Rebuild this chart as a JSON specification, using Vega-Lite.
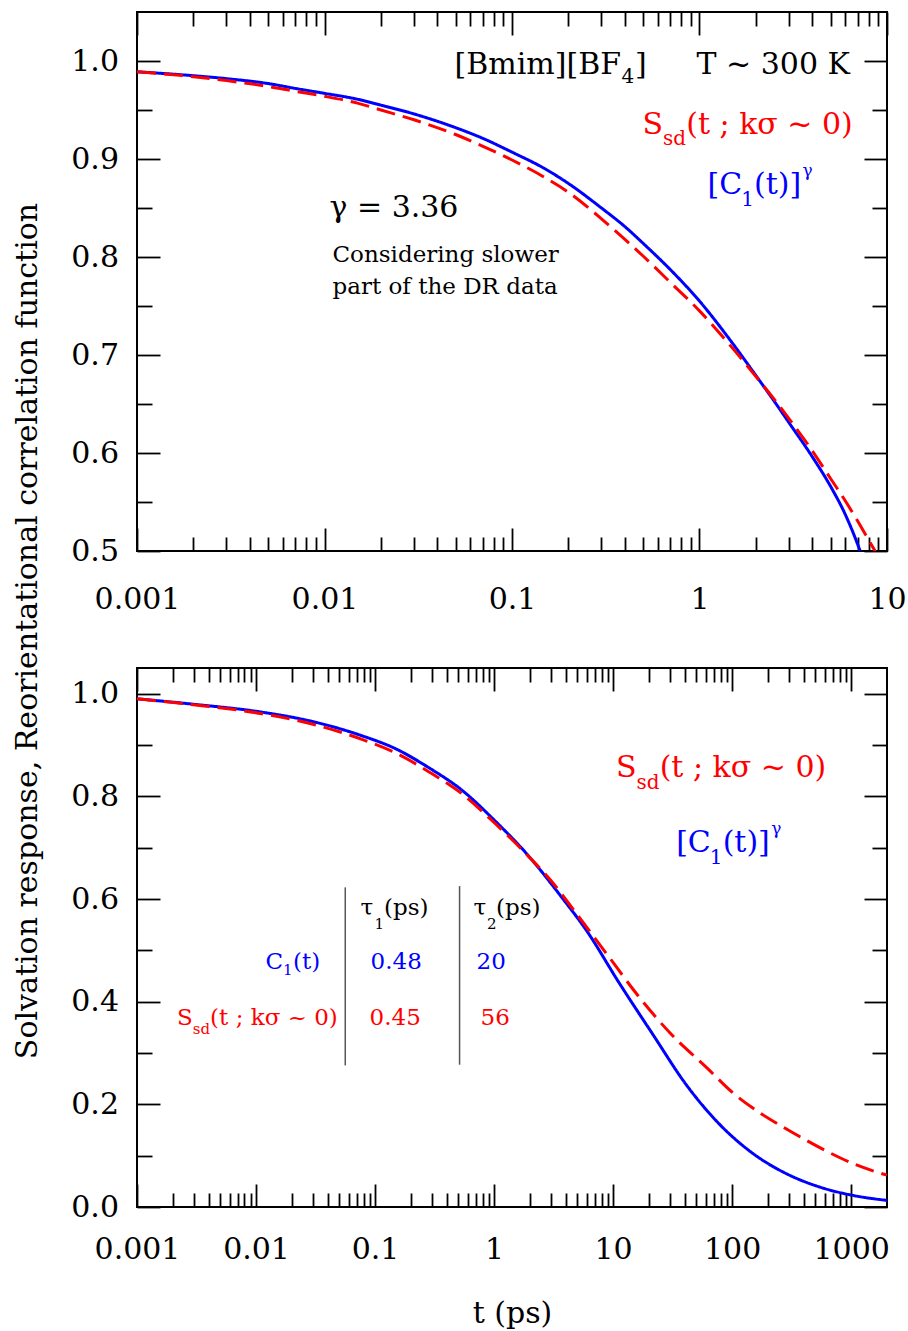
{
  "$schema": "https://vega.github.io/schema/vega-lite/v6.json",
  "padding": {"left": 10, "top": 10, "right": 5, "bottom": 5},
  "bounds": "flush",
  "spacing": 117,
  "config": {
    "view": {"stroke": "#000000", "strokeWidth": 2},
    "font": "DejaVu Serif",
    "text": {"font": "DejaVu Serif"},
    "axis": {
      "domain": false, "grid": false, "tickColor": "#000000", "tickWidth": 1.8,
      "labelFont": "DejaVu Serif", "labelFontSize": 30, "labelColor": "#000000",
      "titleFont": "DejaVu Serif", "titleFontSize": 30, "titleFontWeight": "normal", "titleColor": "#000000",
      "labelFlush": false, "labelOverlap": false
    }
  },
  "datasets": {
    "topCurves": [
      {"t": 0.001, "value": 0.989, "series": "C1"}, {"t": 0.002, "value": 0.985, "series": "C1"}, {"t": 0.003, "value": 0.982, "series": "C1"}, {"t": 0.005, "value": 0.977, "series": "C1"}, {"t": 0.007, "value": 0.972, "series": "C1"}, {"t": 0.01, "value": 0.967, "series": "C1"}, {"t": 0.015, "value": 0.961, "series": "C1"}, {"t": 0.02, "value": 0.955, "series": "C1"}, {"t": 0.03, "value": 0.946, "series": "C1"}, {"t": 0.05, "value": 0.932, "series": "C1"}, {"t": 0.07, "value": 0.921, "series": "C1"}, {"t": 0.1, "value": 0.907, "series": "C1"}, {"t": 0.15, "value": 0.890, "series": "C1"}, {"t": 0.2, "value": 0.875, "series": "C1"}, {"t": 0.3, "value": 0.850, "series": "C1"}, {"t": 0.4, "value": 0.831, "series": "C1"}, {"t": 0.5, "value": 0.814, "series": "C1"}, {"t": 0.7, "value": 0.787, "series": "C1"}, {"t": 1, "value": 0.755, "series": "C1"}, {"t": 1.5, "value": 0.712, "series": "C1"}, {"t": 2, "value": 0.679, "series": "C1"}, {"t": 2.5, "value": 0.653, "series": "C1"}, {"t": 3, "value": 0.631, "series": "C1"}, {"t": 4, "value": 0.596, "series": "C1"}, {"t": 5, "value": 0.566, "series": "C1"}, {"t": 6, "value": 0.537, "series": "C1"}, {"t": 7, "value": 0.506, "series": "C1"}, {"t": 8, "value": 0.474, "series": "C1"},
      {"t": 0.001, "value": 0.989, "series": "Ssd"}, {"t": 0.002, "value": 0.984, "series": "Ssd"}, {"t": 0.003, "value": 0.980, "series": "Ssd"}, {"t": 0.005, "value": 0.974, "series": "Ssd"}, {"t": 0.007, "value": 0.969, "series": "Ssd"}, {"t": 0.01, "value": 0.964, "series": "Ssd"}, {"t": 0.015, "value": 0.957, "series": "Ssd"}, {"t": 0.02, "value": 0.950, "series": "Ssd"}, {"t": 0.03, "value": 0.940, "series": "Ssd"}, {"t": 0.05, "value": 0.925, "series": "Ssd"}, {"t": 0.07, "value": 0.913, "series": "Ssd"}, {"t": 0.1, "value": 0.899, "series": "Ssd"}, {"t": 0.15, "value": 0.881, "series": "Ssd"}, {"t": 0.2, "value": 0.866, "series": "Ssd"}, {"t": 0.3, "value": 0.839, "series": "Ssd"}, {"t": 0.4, "value": 0.818, "series": "Ssd"}, {"t": 0.5, "value": 0.801, "series": "Ssd"}, {"t": 0.7, "value": 0.774, "series": "Ssd"}, {"t": 1, "value": 0.745, "series": "Ssd"}, {"t": 1.5, "value": 0.707, "series": "Ssd"}, {"t": 2, "value": 0.678, "series": "Ssd"}, {"t": 2.5, "value": 0.655, "series": "Ssd"}, {"t": 3, "value": 0.635, "series": "Ssd"}, {"t": 4, "value": 0.602, "series": "Ssd"}, {"t": 5, "value": 0.574, "series": "Ssd"}, {"t": 6, "value": 0.551, "series": "Ssd"}, {"t": 7, "value": 0.530, "series": "Ssd"}, {"t": 8, "value": 0.511, "series": "Ssd"}, {"t": 9, "value": 0.494, "series": "Ssd"}, {"t": 10, "value": 0.478, "series": "Ssd"}
    ],
    "bottomCurves": [
      {"t": 0.001, "value": 0.990, "series": "C1"}, {"t": 0.0031, "value": 0.979, "series": "C1"}, {"t": 0.0112, "value": 0.964, "series": "C1"}, {"t": 0.0295, "value": 0.946, "series": "C1"}, {"t": 0.0776, "value": 0.918, "series": "C1"}, {"t": 0.148, "value": 0.893, "series": "C1"}, {"t": 0.282, "value": 0.856, "series": "C1"}, {"t": 0.537, "value": 0.812, "series": "C1"}, {"t": 1.01, "value": 0.753, "series": "C1"}, {"t": 1.93, "value": 0.685, "series": "C1"}, {"t": 3.68, "value": 0.604, "series": "C1"}, {"t": 5.96, "value": 0.539, "series": "C1"}, {"t": 11.35, "value": 0.435, "series": "C1"}, {"t": 21.6, "value": 0.336, "series": "C1"}, {"t": 41.2, "value": 0.238, "series": "C1"}, {"t": 78.5, "value": 0.161, "series": "C1"}, {"t": 150, "value": 0.104, "series": "C1"}, {"t": 285, "value": 0.065, "series": "C1"}, {"t": 543, "value": 0.039, "series": "C1"}, {"t": 1035, "value": 0.0226, "series": "C1"}, {"t": 2000, "value": 0.0128, "series": "C1"},
      {"t": 0.001, "value": 0.990, "series": "Ssd"}, {"t": 0.0031, "value": 0.978, "series": "Ssd"}, {"t": 0.0112, "value": 0.961, "series": "Ssd"}, {"t": 0.0295, "value": 0.941, "series": "Ssd"}, {"t": 0.0776, "value": 0.911, "series": "Ssd"}, {"t": 0.148, "value": 0.885, "series": "Ssd"}, {"t": 0.282, "value": 0.848, "series": "Ssd"}, {"t": 0.537, "value": 0.805, "series": "Ssd"}, {"t": 1.01, "value": 0.748, "series": "Ssd"}, {"t": 1.93, "value": 0.684, "series": "Ssd"}, {"t": 3, "value": 0.636, "series": "Ssd"}, {"t": 4.9, "value": 0.572, "series": "Ssd"}, {"t": 9.1, "value": 0.489, "series": "Ssd"}, {"t": 16.8, "value": 0.407, "series": "Ssd"}, {"t": 30.1, "value": 0.339, "series": "Ssd"}, {"t": 61.4, "value": 0.271, "series": "Ssd"}, {"t": 103, "value": 0.221, "series": "Ssd"}, {"t": 172, "value": 0.183, "series": "Ssd"}, {"t": 271, "value": 0.155, "series": "Ssd"}, {"t": 427, "value": 0.129, "series": "Ssd"}, {"t": 670, "value": 0.105, "series": "Ssd"}, {"t": 1050, "value": 0.084, "series": "Ssd"}, {"t": 2000, "value": 0.062, "series": "Ssd"}
    ],
    "topNotes": [
      {"t": 0.04935, "value": 0.98694, "text": "[Bmim][BF", "series": "label", "role": "main"},
      {"t": 0.38371, "value": 0.97806, "text": "4", "series": "label", "role": "sub"},
      {"t": 0.4529, "value": 0.98694, "text": "]", "series": "label", "role": "main"},
      {"t": 0.96383, "value": 0.98694, "text": "T ~ 300 K", "series": "label", "role": "main"},
      {"t": 0.49659, "value": 0.92571, "text": "S", "series": "Ssd", "role": "main"},
      {"t": 0.63954, "value": 0.91378, "text": "sd", "series": "Ssd", "role": "sub"},
      {"t": 0.84931, "value": 0.92571, "text": "(t ; kσ ~ 0)", "series": "Ssd", "role": "main"},
      {"t": 1.1033, "value": 0.86449, "text": "[C", "series": "C1", "role": "main"},
      {"t": 1.6688, "value": 0.85255, "text": "1", "series": "C1", "role": "sub"},
      {"t": 1.9529, "value": 0.86449, "text": "(t)]", "series": "C1", "role": "main"},
      {"t": 3.5427, "value": 0.88316, "text": "γ", "series": "C1", "role": "sup"},
      {"t": 0.010633, "value": 0.84061, "text": "γ = 3.36", "series": "label", "role": "main"},
      {"t": 0.011032, "value": 0.79469, "text": "Considering slower", "series": "label", "role": "note"},
      {"t": 0.011032, "value": 0.76245, "text": "part of the DR data", "series": "label", "role": "note"}
    ],
    "bottomNotes": [
      {"t": 10.557, "value": 0.83752, "text": "S", "series": "Ssd", "role": "main"},
      {"t": 15.727, "value": 0.81492, "text": "sd", "series": "Ssd", "role": "sub"},
      {"t": 24.591, "value": 0.83752, "text": "(t ; kσ ~ 0)", "series": "Ssd", "role": "main"},
      {"t": 33.838, "value": 0.69083, "text": "[C", "series": "C1", "role": "main"},
      {"t": 64.955, "value": 0.66745, "text": "1", "series": "C1", "role": "sub"},
      {"t": 83.21, "value": 0.69083, "text": "(t)]", "series": "C1", "role": "main"},
      {"t": 212.68, "value": 0.72589, "text": "γ", "series": "C1", "role": "sup"},
      {"t": 0.075536, "value": 0.56809, "text": "τ", "series": "label", "role": "note"},
      {"t": 0.099037, "value": 0.54218, "text": "1", "series": "label", "role": "noteSub"},
      {"t": 0.11904, "value": 0.56809, "text": "(ps)", "series": "label", "role": "note"},
      {"t": 0.67256, "value": 0.56809, "text": "τ", "series": "label", "role": "note"},
      {"t": 0.87333, "value": 0.54218, "text": "2", "series": "label", "role": "noteSub"},
      {"t": 1.0395, "value": 0.56809, "text": "(ps)", "series": "label", "role": "note"},
      {"t": 0.012017, "value": 0.46289, "text": "C", "series": "C1", "role": "note"},
      {"t": 0.016862, "value": 0.4512, "text": "1", "series": "C1", "role": "noteSub"},
      {"t": 0.020461, "value": 0.46289, "text": "(t)", "series": "C1", "role": "note"},
      {"t": 0.091667, "value": 0.46289, "text": "0.48", "series": "C1", "role": "note"},
      {"t": 0.71285, "value": 0.46289, "text": "20", "series": "C1", "role": "note"},
      {"t": 0.0021685, "value": 0.35379, "text": "S", "series": "Ssd", "role": "note"},
      {"t": 0.0029437, "value": 0.33762, "text": "sd", "series": "Ssd", "role": "noteSub"},
      {"t": 0.0041143, "value": 0.35379, "text": "(t ; kσ ~ 0)", "series": "Ssd", "role": "note"},
      {"t": 0.089914, "value": 0.35379, "text": "0.45", "series": "Ssd", "role": "note"},
      {"t": 0.77011, "value": 0.35379, "text": "56", "series": "Ssd", "role": "note"}
    ],
    "tableRules": [
      {"t": 0.0562, "value": 0.62264, "value2": 0.27586},
      {"t": 0.5129, "value": 0.62516, "value2": 0.27722}
    ]
  },
  "vconcat": [
    {
      "width": 750,
      "height": 539,
      "resolve": {"axis": {"x": "independent", "y": "independent"}},
      "layer": [
        {
          "data": {"name": "topCurves"},
          "mark": {"type": "line", "clip": true, "strokeWidth": 3, "interpolate": "monotone"},
          "encoding": {
            "x": {"field": "t", "type": "quantitative",
              "scale": {"type": "log", "domain": [0.001, 10], "nice": false},
              "axis": {"orient": "bottom", "title": null,
                "values": [0.001,0.002,0.003,0.004,0.005,0.006,0.007,0.008,0.009,0.01,0.02,0.03,0.04,0.05,0.06,0.07,0.08,0.09,0.1,0.2,0.3,0.4,0.5,0.6,0.7,0.8,0.9,1,2,3,4,5,6,7,8,9,10],
                "tickSize": {"condition": {"test": "abs(log(datum.value)/LN10 - round(log(datum.value)/LN10)) < 0.001", "value": -23}, "value": -14},
                "labelExpr": "abs(log(datum.value)/LN10 - round(log(datum.value)/LN10)) < 0.001 ? format(datum.value, '~g') : ''",
                "labelBaseline": "alphabetic", "labelPadding": 80}},
            "y": {"field": "value", "type": "quantitative",
              "scale": {"domain": [0.5, 1.05], "nice": false, "zero": false},
              "axis": {"orient": "left",
                "title": "Solvation response, Reorientational correlation function",
                "titleAngle": 270, "titleX": -101, "titleY": 618.5, "titleBaseline": "alphabetic", "titleAlign": "center", "titleLimit": 2000,
                "values": [0.5,0.55,0.6,0.65,0.7,0.75,0.8,0.85,0.9,0.95,1.0],
                "tickSize": {"condition": {"test": "abs(datum.value*10 - round(datum.value*10)) < 0.001", "value": -23}, "value": -15},
                "labelExpr": "abs(datum.value*10 - round(datum.value*10)) < 0.001 ? format(datum.value, '.1f') : ''",
                "labelPadding": 41.5}},
            "color": {"field": "series", "type": "nominal", "scale": {"domain": ["label", "C1", "Ssd"], "range": ["#000000", "#0000ff", "#ff0000"]}, "legend": null},
            "strokeDash": {"field": "series", "type": "nominal", "scale": {"domain": ["C1", "Ssd"], "range": [[1, 0], [19, 8]]}, "legend": null}
          }
        },
        {
          "data": {"name": "topNotes"},
          "transform": [{"filter": "datum.role === 'main'"}],
          "mark": {"type": "text", "font": "DejaVu Serif", "fontSize": 30, "align": "left", "baseline": "alphabetic"},
          "encoding": {
            "x": {"field": "t", "type": "quantitative", "scale": {"type": "log", "domain": [0.001, 10], "nice": false},
              "axis": {"orient": "top", "title": null, "labels": false,
                "values": [0.001,0.002,0.003,0.004,0.005,0.006,0.007,0.008,0.009,0.01,0.02,0.03,0.04,0.05,0.06,0.07,0.08,0.09,0.1,0.2,0.3,0.4,0.5,0.6,0.7,0.8,0.9,1,2,3,4,5,6,7,8,9,10],
                "tickSize": {"condition": {"test": "abs(log(datum.value)/LN10 - round(log(datum.value)/LN10)) < 0.001", "value": -23}, "value": -14}}},
            "y": {"field": "value", "type": "quantitative", "scale": {"domain": [0.5, 1.05], "nice": false, "zero": false},
              "axis": {"orient": "right", "title": null, "labels": false,
                "values": [0.5,0.55,0.6,0.65,0.7,0.75,0.8,0.85,0.9,0.95,1.0],
                "tickSize": {"condition": {"test": "abs(datum.value*10 - round(datum.value*10)) < 0.001", "value": -23}, "value": -15}}},
            "text": {"field": "text"},
            "color": {"field": "series", "type": "nominal", "scale": {"domain": ["label", "C1", "Ssd"], "range": ["#000000", "#0000ff", "#ff0000"]}, "legend": null}
          }
        },
        {
          "data": {"name": "topNotes"},
          "transform": [{"filter": "datum.role === 'sub'"}],
          "mark": {"type": "text", "font": "DejaVu Serif", "fontSize": 20, "align": "left", "baseline": "alphabetic"},
          "encoding": {
            "x": {"field": "t", "type": "quantitative", "axis": null},
            "y": {"field": "value", "type": "quantitative", "axis": null},
            "text": {"field": "text"},
            "color": {"field": "series", "type": "nominal", "legend": null}
          }
        },
        {
          "data": {"name": "topNotes"},
          "transform": [{"filter": "datum.role === 'sup'"}],
          "mark": {"type": "text", "font": "DejaVu Serif", "fontSize": 17, "align": "left", "baseline": "alphabetic"},
          "encoding": {
            "x": {"field": "t", "type": "quantitative", "axis": null},
            "y": {"field": "value", "type": "quantitative", "axis": null},
            "text": {"field": "text"},
            "color": {"field": "series", "type": "nominal", "legend": null}
          }
        },
        {
          "data": {"name": "topNotes"},
          "transform": [{"filter": "datum.role === 'note'"}],
          "mark": {"type": "text", "font": "DejaVu Serif", "fontSize": 23, "align": "left", "baseline": "alphabetic"},
          "encoding": {
            "x": {"field": "t", "type": "quantitative", "axis": null},
            "y": {"field": "value", "type": "quantitative", "axis": null},
            "text": {"field": "text"},
            "color": {"field": "series", "type": "nominal", "legend": null}
          }
        }
      ]
    },
    {
      "width": 750,
      "height": 539,
      "resolve": {"axis": {"x": "independent", "y": "independent"}},
      "layer": [
        {
          "data": {"name": "tableRules"},
          "mark": {"type": "rule", "color": "#555555", "strokeWidth": 1.5},
          "encoding": {
            "x": {"field": "t", "type": "quantitative", "scale": {"type": "log", "domain": [0.001, 2000], "nice": false}, "axis": null},
            "y": {"field": "value", "type": "quantitative", "scale": {"domain": [0, 1.05], "nice": false, "zero": false}, "axis": null},
            "y2": {"field": "value2"}
          }
        },
        {
          "data": {"name": "bottomCurves"},
          "mark": {"type": "line", "clip": true, "strokeWidth": 3, "interpolate": "monotone"},
          "encoding": {
            "x": {"field": "t", "type": "quantitative",
              "scale": {"type": "log", "domain": [0.001, 2000], "nice": false},
              "axis": {"orient": "bottom", "title": "t (ps)",
                "titleX": 375, "titleY": 115, "titleBaseline": "alphabetic", "titleAlign": "center",
                "values": [0.001,0.002,0.003,0.004,0.005,0.006,0.007,0.008,0.009,0.01,0.02,0.03,0.04,0.05,0.06,0.07,0.08,0.09,0.1,0.2,0.3,0.4,0.5,0.6,0.7,0.8,0.9,1,2,3,4,5,6,7,8,9,10,20,30,40,50,60,70,80,90,100,200,300,400,500,600,700,800,900,1000],
                "tickSize": {"condition": {"test": "abs(log(datum.value)/LN10 - round(log(datum.value)/LN10)) < 0.001", "value": -23}, "value": -14},
                "labelExpr": "abs(log(datum.value)/LN10 - round(log(datum.value)/LN10)) < 0.001 ? format(datum.value, '~g') : ''",
                "labelBaseline": "alphabetic", "labelPadding": 74}},
            "y": {"field": "value", "type": "quantitative",
              "scale": {"domain": [0, 1.05], "nice": false, "zero": false},
              "axis": {"orient": "left", "title": null,
                "values": [0,0.1,0.2,0.3,0.4,0.5,0.6,0.7,0.8,0.9,1.0],
                "tickSize": {"condition": {"test": "abs(datum.value*5 - round(datum.value*5)) < 0.001", "value": -23}, "value": -15},
                "labelExpr": "abs(datum.value*5 - round(datum.value*5)) < 0.001 ? format(datum.value, '.1f') : ''",
                "labelPadding": 41.5}},
            "color": {"field": "series", "type": "nominal", "scale": {"domain": ["label", "C1", "Ssd"], "range": ["#000000", "#0000ff", "#ff0000"]}, "legend": null},
            "strokeDash": {"field": "series", "type": "nominal", "scale": {"domain": ["C1", "Ssd"], "range": [[1, 0], [19, 8]]}, "legend": null}
          }
        },
        {
          "data": {"name": "bottomNotes"},
          "transform": [{"filter": "datum.role === 'main'"}],
          "mark": {"type": "text", "font": "DejaVu Serif", "fontSize": 30, "align": "left", "baseline": "alphabetic"},
          "encoding": {
            "x": {"field": "t", "type": "quantitative", "scale": {"type": "log", "domain": [0.001, 2000], "nice": false},
              "axis": {"orient": "top", "title": null, "labels": false,
                "values": [0.001,0.002,0.003,0.004,0.005,0.006,0.007,0.008,0.009,0.01,0.02,0.03,0.04,0.05,0.06,0.07,0.08,0.09,0.1,0.2,0.3,0.4,0.5,0.6,0.7,0.8,0.9,1,2,3,4,5,6,7,8,9,10,20,30,40,50,60,70,80,90,100,200,300,400,500,600,700,800,900,1000],
                "tickSize": {"condition": {"test": "abs(log(datum.value)/LN10 - round(log(datum.value)/LN10)) < 0.001", "value": -23}, "value": -14}}},
            "y": {"field": "value", "type": "quantitative", "scale": {"domain": [0, 1.05], "nice": false, "zero": false},
              "axis": {"orient": "right", "title": null, "labels": false,
                "values": [0,0.1,0.2,0.3,0.4,0.5,0.6,0.7,0.8,0.9,1.0],
                "tickSize": {"condition": {"test": "abs(datum.value*5 - round(datum.value*5)) < 0.001", "value": -23}, "value": -15}}},
            "text": {"field": "text"},
            "color": {"field": "series", "type": "nominal", "scale": {"domain": ["label", "C1", "Ssd"], "range": ["#000000", "#0000ff", "#ff0000"]}, "legend": null}
          }
        },
        {
          "data": {"name": "bottomNotes"},
          "transform": [{"filter": "datum.role === 'sub'"}],
          "mark": {"type": "text", "font": "DejaVu Serif", "fontSize": 20, "align": "left", "baseline": "alphabetic"},
          "encoding": {
            "x": {"field": "t", "type": "quantitative", "axis": null},
            "y": {"field": "value", "type": "quantitative", "axis": null},
            "text": {"field": "text"},
            "color": {"field": "series", "type": "nominal", "legend": null}
          }
        },
        {
          "data": {"name": "bottomNotes"},
          "transform": [{"filter": "datum.role === 'sup'"}],
          "mark": {"type": "text", "font": "DejaVu Serif", "fontSize": 17, "align": "left", "baseline": "alphabetic"},
          "encoding": {
            "x": {"field": "t", "type": "quantitative", "axis": null},
            "y": {"field": "value", "type": "quantitative", "axis": null},
            "text": {"field": "text"},
            "color": {"field": "series", "type": "nominal", "legend": null}
          }
        },
        {
          "data": {"name": "bottomNotes"},
          "transform": [{"filter": "datum.role === 'note'"}],
          "mark": {"type": "text", "font": "DejaVu Serif", "fontSize": 23, "align": "left", "baseline": "alphabetic"},
          "encoding": {
            "x": {"field": "t", "type": "quantitative", "axis": null},
            "y": {"field": "value", "type": "quantitative", "axis": null},
            "text": {"field": "text"},
            "color": {"field": "series", "type": "nominal", "legend": null}
          }
        },
        {
          "data": {"name": "bottomNotes"},
          "transform": [{"filter": "datum.role === 'noteSub'"}],
          "mark": {"type": "text", "font": "DejaVu Serif", "fontSize": 15, "align": "left", "baseline": "alphabetic"},
          "encoding": {
            "x": {"field": "t", "type": "quantitative", "axis": null},
            "y": {"field": "value", "type": "quantitative", "axis": null},
            "text": {"field": "text"},
            "color": {"field": "series", "type": "nominal", "legend": null}
          }
        }
      ]
    }
  ]
}
